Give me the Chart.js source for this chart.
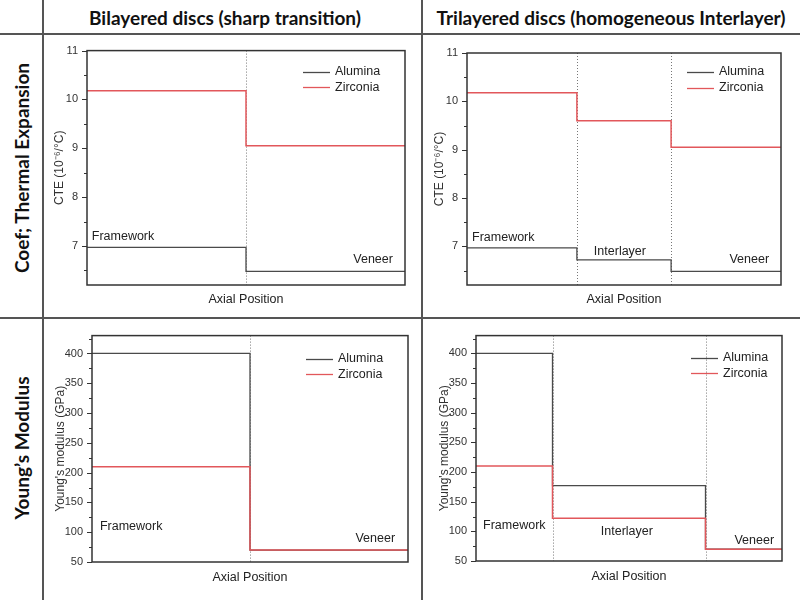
<!DOCTYPE html>
<html>
<head>
<meta charset="utf-8">
<script src="https://cdn.jsdelivr.net/npm/chart.js@4.4.0/dist/chart.umd.min.js"></script>
<style>
  body { margin: 0; background: #fff; width: 800px; height: 600px; position: relative; overflow: hidden; }
  .hl, .vl { position: absolute; background: #555; }
  .hl { left: 0; width: 800px; height: 2px; }
  .vl { top: 0; height: 600px; width: 2px; }
  canvas { position: absolute; }
  .head { position: absolute; font: bold 19px Lato, sans-serif; color: #111; white-space: nowrap; transform: translate(-50%, -50%); }
  .row { position: absolute; font: bold 19px Lato, sans-serif; color: #111; white-space: nowrap; transform: translate(-50%, -50%) rotate(-90deg); }
</style>
</head>
<body>
<div class="hl" style="top:33px"></div>
<div class="hl" style="top:317px"></div>
<div class="vl" style="left:42px"></div>
<div class="vl" style="left:421px"></div>

<div class="head" style="left:225px;top:17px">Bilayered discs (sharp transition)</div>
<div class="head" style="left:611px;top:17px">Trilayered discs (homogeneous Interlayer)</div>
<div class="row" style="left:21px;top:168px">Coef; Thermal Expansion</div>
<div class="row" style="left:21px;top:448px">Young’s Modulus</div>

<canvas id="c1" width="377" height="282" style="left:44px;top:35px"></canvas>
<canvas id="c2" width="377" height="282" style="left:423px;top:35px"></canvas>
<canvas id="c3" width="377" height="280" style="left:44px;top:320px"></canvas>
<canvas id="c4" width="377" height="280" style="left:423px;top:320px"></canvas>

<script>
// layer boundaries along the axial position (0 = framework side, 1 = veneer surface)
const boundsBi = [0, 0.5, 1];
const boundsTriCte = [0, 0.35, 0.65, 1];
const boundsTriYoung = [0, 0.25, 0.75, 1];

const cteBiAlumina = [6.97, 6.48];
const cteBiZirconia = [10.18, 9.05];
const cteTriAlumina = [6.97, 6.72, 6.48];
const cteTriZirconia = [10.18, 9.6, 9.05];

const youngBiAlumina = [400, 70];
const youngBiZirconia = [210, 70];
const youngTriAlumina = [400, 177, 70];
const youngTriZirconia = [210, 122, 70];

const cteTicks = [7, 8, 9, 10, 11];
const cteMinor = [6.5, 7.5, 8.5, 9.5, 10.5];
const youngTicks = [50, 100, 150, 200, 250, 300, 350, 400];
const youngMinor = [75, 125, 175, 225, 275, 325, 375, 425];

const FONT = "'Liberation Sans', Arial, sans-serif";
const ALU = '#4a4a4a';
const ZIR = '#e2575b';

function toSteps(bounds, vals) {
    const pts = vals.map((v, i) => ({ x: bounds[i], y: v }));
    pts.push({ x: bounds[bounds.length - 1], y: vals[vals.length - 1] });
    return pts;
}

function makeChart(id, p) {
    const ctx = document.getElementById(id).getContext('2d');
    return new Chart(ctx, {
        type: 'line',
        data: {
            datasets: [
                { label: 'Alumina', data: toSteps(p.bounds, p.alumina), borderColor: ALU, borderWidth: 1.3, stepped: 'before', order: 1 },
                { label: 'Zirconia', data: toSteps(p.bounds, p.zirconia), borderColor: ZIR, borderWidth: 1.5, stepped: 'before', order: 0 }
            ]
        },
        options: {
            responsive: false,
            animation: false,
            layout: { padding: { left: 0, right: p.right, top: p.top, bottom: 0 } },
            elements: { point: { radius: 0 } },
            plugins: { legend: { display: false }, tooltip: { enabled: false } },
            scales: {
                x: {
                    type: 'linear', min: 0, max: 1,
                    grid: { display: false }, border: { display: false },
                    ticks: { display: false },
                    title: { display: true, text: 'Axial Position', color: '#222', font: { family: FONT, size: 12.5 }, padding: { top: 0, bottom: p.xPad } },
                    afterFit(s) { s.height = p.bottom; }
                },
                y: {
                    min: p.yMin, max: p.yMax,
                    grid: { display: false, drawTicks: false }, border: { display: false },
                    afterBuildTicks(s) { s.ticks = p.ticks.map(v => ({ value: v })); },
                    ticks: { padding: 9, color: '#333', font: { family: FONT, size: 11 }, autoSkip: false },
                    title: { display: true, text: p.yTitle, color: '#333', font: { family: FONT, size: 12 }, padding: { top: p.yPad, bottom: 0 } },
                    afterFit(s) { s.width = p.left; }
                }
            }
        },
        plugins: [{
            beforeDatasetsDraw(chart) {
                const { ctx, chartArea: { top, bottom }, scales: { x } } = chart;
                ctx.save();
                ctx.strokeStyle = '#777';
                ctx.lineWidth = 1;
                ctx.setLineDash([1, 2]);
                p.bounds.slice(1, -1).forEach(b => {
                    const px = Math.round(x.getPixelForValue(b)) + 0.5;
                    ctx.beginPath();
                    ctx.moveTo(px, top);
                    ctx.lineTo(px, bottom);
                    ctx.stroke();
                });
                ctx.restore();
            },
            afterDatasetsDraw(chart) {
                const { ctx, chartArea: { top, bottom, left, right }, scales: { x, y } } = chart;
                ctx.save();
                ctx.strokeStyle = '#333';
                ctx.lineWidth = 1.5;
                ctx.strokeRect(left, top, right - left, bottom - top);
                ctx.lineWidth = 1;
                ctx.beginPath();
                p.ticks.forEach(v => {
                    const py = Math.round(y.getPixelForValue(v)) + 0.5;
                    ctx.moveTo(left - 5, py); ctx.lineTo(left, py);
                });
                p.minor.forEach(v => {
                    if (v > p.yMax) return;
                    const py = Math.round(y.getPixelForValue(v)) + 0.5;
                    ctx.moveTo(left - 3, py); ctx.lineTo(left, py);
                });
                ctx.stroke();

                // layer names
                ctx.fillStyle = '#222';
                ctx.font = '12.5px ' + FONT;
                ctx.textBaseline = 'middle';
                p.names.forEach(n => {
                    ctx.textAlign = n.align;
                    ctx.fillText(n.text, x.getPixelForValue(n.x), y.getPixelForValue(n.y));
                });

                // legend
                const lx = right - p.legend[0];
                [['Alumina', ALU], ['Zirconia', ZIR]].forEach((it, i) => {
                    const ly = top + p.legend[1] + i * 15.5;
                    ctx.strokeStyle = it[1];
                    ctx.lineWidth = 1.3;
                    ctx.beginPath();
                    ctx.moveTo(lx, Math.round(ly) + 0.5);
                    ctx.lineTo(lx + 27, Math.round(ly) + 0.5);
                    ctx.stroke();
                    ctx.textAlign = 'left';
                    ctx.fillText(it[0], lx + 32, ly);
                });
                ctx.restore();
            }
        }]
    });
}

const cteTitle = 'CTE (10⁻⁶/°C)';
const youngTitle = 'Young\'s modulus (GPa)';

makeChart('c1', {
    bounds: boundsBi, alumina: cteBiAlumina, zirconia: cteBiZirconia,
    yMin: 6.2, yMax: 11, ticks: cteTicks, minor: cteMinor, yTitle: cteTitle,
    left: 43, right: 16, top: 14, bottom: 32, xPad: 10, yPad: 8,
    legend: [102, 21],
    names: [
        { text: 'Framework', x: 0.015, y: 7.2, align: 'left' },
        { text: 'Veneer', x: 0.962, y: 6.73, align: 'right' }
    ]
});

makeChart('c2', {
    bounds: boundsTriCte, alumina: cteTriAlumina, zirconia: cteTriZirconia,
    yMin: 6.2, yMax: 11, ticks: cteTicks, minor: cteMinor, yTitle: cteTitle,
    left: 44, right: 19, top: 18, bottom: 32, xPad: 10, yPad: 9,
    legend: [94, 19],
    names: [
        { text: 'Framework', x: 0.016, y: 7.19, align: 'left' },
        { text: 'Interlayer', x: 0.487, y: 6.9, align: 'center' },
        { text: 'Veneer', x: 0.962, y: 6.73, align: 'right' }
    ]
});

makeChart('c3', {
    bounds: boundsBi, alumina: youngBiAlumina, zirconia: youngBiZirconia,
    yMin: 50, yMax: 430, ticks: youngTicks, minor: youngMinor, yTitle: youngTitle,
    left: 48, right: 13, top: 9, bottom: 38, xPad: 15, yPad: 9,
    legend: [102, 23],
    names: [
        { text: 'Framework', x: 0.025, y: 110, align: 'left' },
        { text: 'Veneer', x: 0.959, y: 89, align: 'right' }
    ]
});

makeChart('c4', {
    bounds: boundsTriYoung, alumina: youngTriAlumina, zirconia: youngTriZirconia,
    yMin: 50, yMax: 430, ticks: youngTicks, minor: youngMinor, yTitle: youngTitle,
    left: 53, right: 18, top: 15, bottom: 39, xPad: 16, yPad: 14,
    legend: [91, 22],
    names: [
        { text: 'Framework', x: 0.023, y: 109, align: 'left' },
        { text: 'Interlayer', x: 0.493, y: 99, align: 'center' },
        { text: 'Veneer', x: 0.974, y: 84, align: 'right' }
    ]
});
</script>
</body>
</html>
